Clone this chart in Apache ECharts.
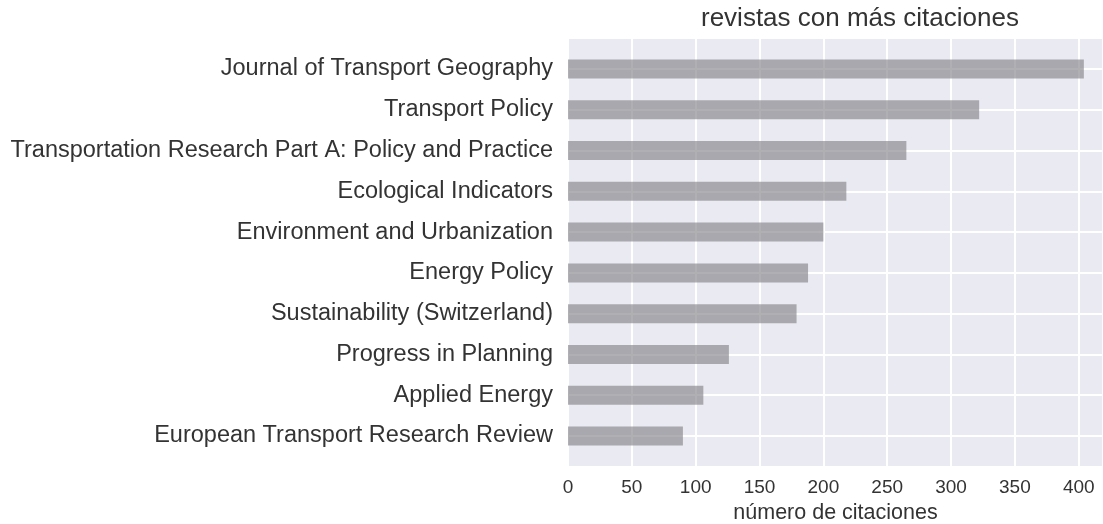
<!DOCTYPE html>
<html>
<head>
<meta charset="utf-8">
<title>revistas con más citaciones</title>
<script src="https://cdn.jsdelivr.net/npm/echarts@6/dist/echarts.min.js"></script>
<style>
  html, body { margin: 0; padding: 0; background: #fff; }
  #chart { width: 1103px; height: 524px; }
</style>
</head>
<body>
<div id="chart"></div>
<script>
// revistas ordenadas de mayor a menor
const journals = [
  'Journal of Transport Geography',
  'Transport Policy',
  'Transportation Research Part A: Policy and Practice',
  'Ecological Indicators',
  'Environment and Urbanization',
  'Energy Policy',
  'Sustainability (Switzerland)',
  'Progress in Planning',
  'Applied Energy',
  'European Transport Research Review'
]
// número de citaciones
const citations = [404, 322, 265, 218, 200, 188, 179, 126, 106, 90]

const chart = echarts.init(document.getElementById('chart'))
const font = 'Liberation Sans, Arial, sans-serif'
const textColor = '#333333'

const option = {
  animation: false,
  title: {
    text: 'revistas con más citaciones',
    left: 696,
    top: 1,
    textStyle: { fontSize: 26, fontWeight: 'normal', color: textColor, fontFamily: font }
  },
  // grid 0: fondo gris y líneas verticales, grid 1: barras y etiquetas
  grid: [
    { left: 568, right: 0, top: 39, bottom: 58, show: true, backgroundColor: '#EAEAF2', borderWidth: 0, outerBoundsMode: 'none' },
    { left: 568, right: 0, top: 69, bottom: 88, outerBoundsMode: 'none' }
  ],
  xAxis: [
    {
      gridIndex: 0,
      type: 'value',
      min: 0,
      max: 419,
      interval: 50,
      axisLine: { show: false },
      axisTick: { show: false },
      splitLine: { show: true, lineStyle: { color: '#ffffff', width: 2 } },
      axisLabel: { showMaxLabel: false, margin: 12, fontSize: 19, color: textColor, fontFamily: font },
      name: 'número de citaciones',
      nameLocation: 'middle',
      nameGap: 36,
      nameTextStyle: { fontSize: 21.5, color: textColor, fontFamily: font }
    },
    { gridIndex: 1, type: 'value', min: 0, max: 419, show: false }
  ],
  yAxis: [
    { gridIndex: 0, type: 'value', show: false },
    {
      gridIndex: 1,
      type: 'category',
      data: journals,
      inverse: true,
      boundaryGap: false,
      axisLine: { show: false },
      axisTick: { show: false },
      splitLine: { show: true, lineStyle: { color: '#ffffff', width: 2 } },
      axisLabel: { margin: 15, fontSize: 23.5, color: textColor, fontFamily: font }
    }
  ],
  series: [
    {
      type: 'bar',
      xAxisIndex: 1,
      yAxisIndex: 1,
      data: citations,
      barWidth: 19,
      clip: false,
      itemStyle: { color: 'rgba(128, 128, 132, 0.62)' }
    }
  ]
}
chart.setOption(option)
</script>
</body>
</html>
